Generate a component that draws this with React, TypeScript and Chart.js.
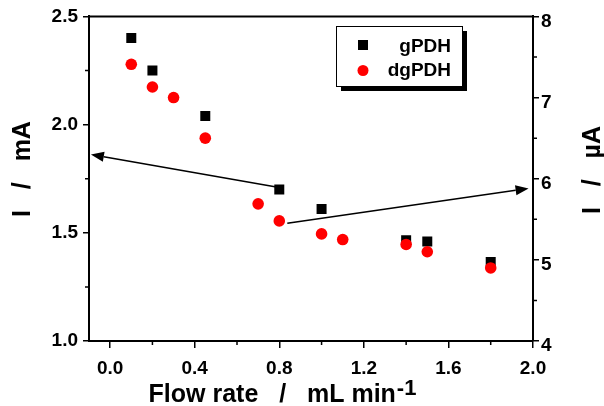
import React, { useEffect, useRef } from "react";
import { Chart, registerables } from "chart.js";
Chart.register(...registerables);

// ---- data ----
const seriesNames = ["gPDH", "dgPDH"];
const flowG = [0.1, 0.2, 0.45, 0.8, 1.0, 1.4, 1.5, 1.8];
const currentG = [2.4, 2.25, 2.04, 1.7, 1.61, 1.465, 1.46, 1.365];
const flowDg = [0.1, 0.2, 0.3, 0.45, 0.7, 0.8, 1.0, 1.1, 1.4, 1.5, 1.8];
const currentDg = [7.41, 7.13, 7.0, 6.5, 5.69, 5.48, 5.32, 5.25, 5.19, 5.1, 4.9];

const xTicks = [0.0, 0.4, 0.8, 1.2, 1.6, 2.0];
const xMinor = [0.2, 0.6, 1.0, 1.4, 1.8];
const yTicks = [1.0, 1.5, 2.0, 2.5];
const yMinor = [1.25, 1.75, 2.25];
const y1Ticks = [4, 5, 6, 7, 8];
const y1Minor = [4.5, 5.5, 6.5, 7.5];

// arrow annotations (data space): left arrow on left axis, right arrow on right axis
const arrowLeftX = [0.786, -0.091];
const arrowLeftY = [1.712, 1.862];
const arrowRightX = [0.838, 1.979];
const arrowRightY = [5.45, 5.88];

const xTitle = "Flow rate   /   mL min";
const xTitleSup = "-1";
const yTitle = "I   /   mA";
const y1Title = "I   /   \u00b5A";

const FONT = "'Liberation Sans', Arial, Helvetica, sans-serif";

function drawArrow(ctx: CanvasRenderingContext2D, x0: number, y0: number, x1: number, y1: number) {
  const ang = Math.atan2(y1 - y0, x1 - x0);
  const hl = 13, hw = 5;
  const bx = x1 - hl * Math.cos(ang), by = y1 - hl * Math.sin(ang);
  ctx.beginPath();
  ctx.moveTo(x0, y0);
  ctx.lineTo(bx, by);
  ctx.stroke();
  ctx.beginPath();
  ctx.moveTo(x1, y1);
  ctx.lineTo(bx + hw * Math.sin(ang), by - hw * Math.cos(ang));
  ctx.lineTo(bx - hw * Math.sin(ang), by + hw * Math.cos(ang));
  ctx.closePath();
  ctx.fill();
}

const decor = {
  id: "decor",
  afterDraw(chart: any) {
    const ctx: CanvasRenderingContext2D = chart.ctx;
    const { left, right, top, bottom } = chart.chartArea;
    const xs = chart.scales.x, ys = chart.scales.y, y1s = chart.scales.y1;
    ctx.save();
    ctx.strokeStyle = "#000";
    ctx.fillStyle = "#000";
    // top frame
    ctx.lineWidth = 2;
    ctx.beginPath();
    ctx.moveTo(left - 1, top);
    ctx.lineTo(right + 1, top);
    ctx.stroke();
    // minor ticks
    ctx.lineWidth = 1.5;
    ctx.beginPath();
    xMinor.forEach((v) => {
      const p = xs.getPixelForValue(v);
      ctx.moveTo(p, bottom);
      ctx.lineTo(p, bottom + 4);
    });
    yMinor.forEach((v) => {
      const p = ys.getPixelForValue(v);
      ctx.moveTo(left, p);
      ctx.lineTo(left - 4, p);
    });
    y1Minor.forEach((v) => {
      const p = y1s.getPixelForValue(v);
      ctx.moveTo(right, p);
      ctx.lineTo(right + 4, p);
    });
    ctx.stroke();
    // right axis labels (sit slightly below their ticks in the reference)
    ctx.font = `bold 19px ${FONT}`;
    ctx.textAlign = "left";
    ctx.textBaseline = "middle";
    y1Ticks.forEach((v) => {
      const p = y1s.getPixelForValue(v);
      ctx.fillText(String(v), right + 8, p + 5);
    });
    // arrows
    ctx.lineWidth = 1.5;
    drawArrow(
      ctx,
      xs.getPixelForValue(arrowLeftX[0]), ys.getPixelForValue(arrowLeftY[0]),
      xs.getPixelForValue(arrowLeftX[1]), ys.getPixelForValue(arrowLeftY[1])
    );
    drawArrow(
      ctx,
      xs.getPixelForValue(arrowRightX[0]), y1s.getPixelForValue(arrowRightY[0]),
      xs.getPixelForValue(arrowRightX[1]), y1s.getPixelForValue(arrowRightY[1])
    );
    // legend
    const lx = 336, ly = 26, lw = 126, lh = 60;
    ctx.fillStyle = "#000";
    ctx.fillRect(lx + 5, ly + 5, lw, lh);
    ctx.fillStyle = "#fff";
    ctx.fillRect(lx, ly, lw, lh);
    ctx.lineWidth = 1;
    ctx.strokeStyle = "#000";
    ctx.strokeRect(lx + 0.5, ly + 0.5, lw, lh);
    ctx.fillStyle = "#000";
    ctx.fillRect(363 - 5, 45 - 5, 10, 10);
    ctx.fillStyle = "#ff0000";
    ctx.beginPath();
    ctx.arc(363, 70.5, 5.5, 0, Math.PI * 2);
    ctx.fill();
    ctx.fillStyle = "#000";
    ctx.font = `bold 19px ${FONT}`;
    ctx.textAlign = "right";
    ctx.textBaseline = "alphabetic";
    const ds = chart.data.datasets;
    ctx.fillText(ds[0].label, 451, 52);
    ctx.fillText(ds[1].label, 451, 76);
    // axis titles
    ctx.font = `bold 25px ${FONT}`;
    ctx.textAlign = "center";
    ctx.save();
    ctx.translate(30, 169);
    ctx.rotate(-Math.PI / 2);
    ctx.fillText(yTitle, 0, 0);
    ctx.restore();
    ctx.save();
    ctx.translate(600, 170);
    ctx.rotate(-Math.PI / 2);
    ctx.fillText(y1Title, 0, 0);
    ctx.restore();
    // x title with superscript
    ctx.textAlign = "left";
    ctx.font = `bold 25px ${FONT}`;
    const w1 = ctx.measureText(xTitle).width;
    ctx.font = `bold 22px ${FONT}`;
    const w2 = ctx.measureText(xTitleSup).width;
    const sx = 282 - (w1 + w2) / 2;
    ctx.font = `bold 25px ${FONT}`;
    ctx.fillText(xTitle, sx, 402);
    ctx.font = `bold 22px ${FONT}`;
    ctx.fillText(xTitleSup, sx + w1 + 1, 395);
    ctx.restore();
  },
};

export default function App() {
  const ref = useRef<HTMLCanvasElement | null>(null);
  useEffect(() => {
    if (!ref.current) return;
    const tickFont = { family: FONT, size: 19, weight: "bold" as const };
    const chart = new Chart(ref.current, {
      type: "scatter",
      data: {
        datasets: [
          {
            label: seriesNames[0],
            data: flowG.map((x, i) => ({ x, y: currentG[i] })),
            yAxisID: "y",
            pointStyle: "rect",
            pointRadius: 7.07,
            backgroundColor: "#000",
            borderColor: "#000",
            borderWidth: 0,
            order: 2,
          },
          {
            label: seriesNames[1],
            data: flowDg.map((x, i) => ({ x, y: currentDg[i] })),
            yAxisID: "y1",
            pointStyle: "circle",
            pointRadius: 5.8,
            backgroundColor: "#ff0000",
            borderColor: "#ff0000",
            borderWidth: 0,
            order: 1,
          },
        ],
      },
      options: {
        responsive: false,
        animation: false,
        devicePixelRatio: 1,
        layout: { padding: { top: 15, left: 0, right: 0, bottom: 0 } },
        plugins: { legend: { display: false }, tooltip: { enabled: false } },
        scales: {
          x: {
            type: "linear",
            min: -0.1,
            max: 2.0,
            afterBuildTicks: (s: any) => {
              s.ticks = xTicks.map((v) => ({ value: v }));
            },
            afterFit: (s: any) => {
              s.height = 65;
            },
            ticks: {
              color: "#000",
              font: tickFont,
              padding: 9,
              maxRotation: 0,
              callback: (v: any) => Number(v).toFixed(1),
            },
            grid: { drawOnChartArea: false, tickLength: 7, color: "#000", lineWidth: 1.5 },
            border: { display: true, color: "#000", width: 2 },
          },
          y: {
            type: "linear",
            position: "left",
            min: 1.0,
            max: 2.5,
            afterBuildTicks: (s: any) => {
              s.ticks = yTicks.map((v) => ({ value: v }));
            },
            afterFit: (s: any) => {
              s.width = 89;
            },
            ticks: {
              color: "#000",
              font: tickFont,
              padding: 5,
              callback: (v: any) => Number(v).toFixed(1),
            },
            grid: { drawOnChartArea: false, tickLength: 6, color: "#000", lineWidth: 1.5 },
            border: { display: true, color: "#000", width: 2 },
          },
          y1: {
            type: "linear",
            position: "right",
            min: 4,
            max: 8,
            afterBuildTicks: (s: any) => {
              s.ticks = y1Ticks.map((v) => ({ value: v }));
            },
            afterFit: (s: any) => {
              s.width = 71;
            },
            ticks: {
              display: false,
              color: "#000",
              font: tickFont,
              padding: 2,
            },
            grid: { drawOnChartArea: false, drawTicks: true, tickLength: 6, color: "#000", lineWidth: 1.5 },
            border: { display: true, color: "#000", width: 2 },
          },
        },
      },
      plugins: [decor],
    } as any);
    return () => chart.destroy();
  }, []);
  return (
    <div style={{ position: "fixed", left: 0, top: 0, width: 604, height: 406, background: "#fff" }}>
      <canvas ref={ref} width={604} height={406} style={{ display: "block" }} />
    </div>
  );
}
